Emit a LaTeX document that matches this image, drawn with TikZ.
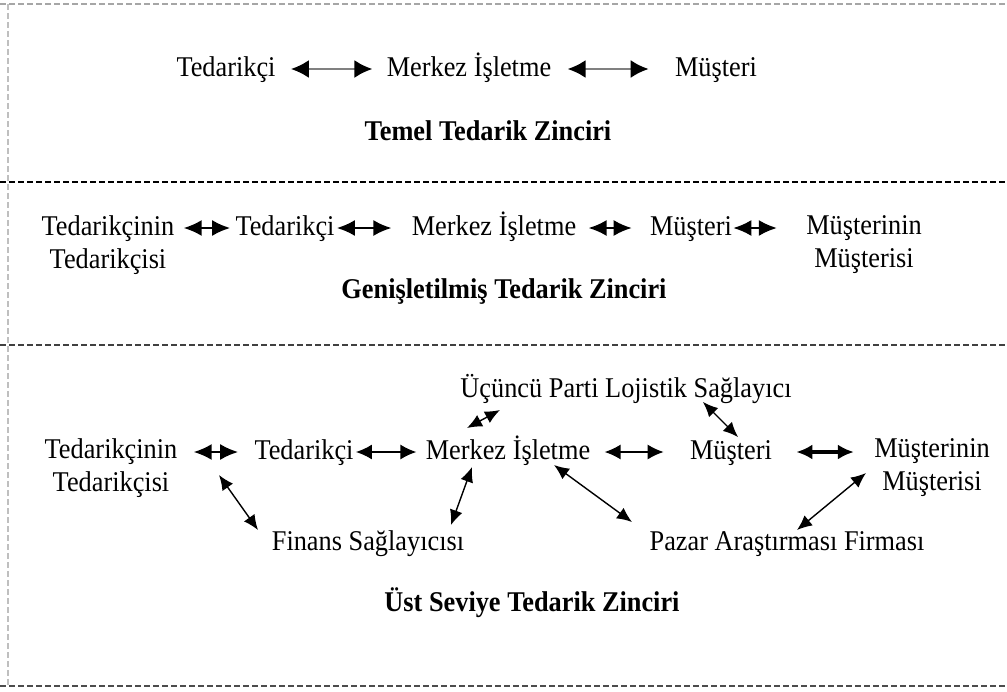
\documentclass[tikz,border=0pt]{standalone}
\usepackage{fontspec}
\setmainfont[FakeStretch=0.92]{Liberation Serif}
\usetikzlibrary{arrows.meta}
\tikzset{
  lbl/.style={inner sep=0pt,text height=10.5pt,text depth=3pt,font=\fontsize{14.3}{16.5}\selectfont},
  twoline/.style={inner sep=0pt,align=center,font=\fontsize{14.3}{16.5}\selectfont},
  ttl/.style={inner sep=0pt,font=\fontsize{14.3}{16.5}\selectfont\bfseries},
  widelink/.style={{Latex[length=9pt,width=9pt,color=black]}-{Latex[length=9pt,width=9pt,color=black]},draw=gray,line width=1.2pt},
  duallink/.style={{Latex[length=9pt,width=8pt]}-{Latex[length=9pt,width=8pt]},line width=1pt},
  link/.style={{Latex[length=8pt,width=7.5pt]}-{Latex[length=8pt,width=7.5pt]},line width=0.8pt},
  sidelink/.style={{Latex[length=7.5pt,width=6.5pt]}-{Latex[length=7.5pt,width=6.5pt]},line width=0.7pt},
  sep/.style={dash pattern=on 3pt off 1.5pt,line width=1pt}
}
\begin{document}
\begin{tikzpicture}[x=0.5pt,y=-0.5pt]
    \useasboundingbox (0,0) rectangle (1007,691);
    % frame
    \draw[sep,gray!70] (0,4) -- (1007,4);
    \draw[sep,black,line width=1.2pt] (0,182) -- (1007,182);
    \draw[sep,black!75] (0,345) -- (1007,345);
    \draw[sep,black!70] (0,686) -- (1007,686);
    \draw[sep,gray!50,line width=0.8pt] (8,4) -- (8,686);

    % temel
    \node[lbl] (t1) at (226,69) {Tedarikçi};
    \node[lbl] (m1) at (469,69) {Merkez İşletme};
    \node[lbl] (c1) at (716,69) {Müşteri};
    \node[ttl] (k1) at (488,131) {Temel Tedarik Zinciri};
    \draw[widelink,shorten <=7.5pt,shorten >=7pt] (t1.east) -- (m1.west);
    \draw[widelink,shorten <=8pt,shorten >=13pt] (m1.east) -- (c1.west);

    % genisletilmis
    \node[twoline] (ss2) at (108,245) {Tedarikçinin\\Tedarikçisi};
    \node[lbl] (t2) at (285,228) {Tedarikçi};
    \node[lbl] (m2) at (494,228) {Merkez İşletme};
    \node[lbl] (c2) at (691,228) {Müşteri};
    \node[twoline] (cc2) at (864,245) {Müşterinin\\Müşterisi};
    \node[ttl] (k2) at (504,292) {Genişletilmiş Tedarik Zinciri};
    \draw[duallink,shorten <=4.5pt,shorten >=2.5pt] (t2 -| ss2.east) -- (t2.west);
    \draw[duallink,shorten <=1pt,shorten >=10pt] (t2.east) -- (m2.west);
    \draw[duallink,shorten <=6pt,shorten >=9pt] (m2.east) -- (c2.west);
    \draw[duallink,shorten <=0.5pt,shorten >=14.5pt] (c2.east) -- (c2 -| cc2.west);

    % ust seviye
    \node[lbl] (lp) at (626,390) {Üçüncü Parti Lojistik Sağlayıcı};
    \node[twoline] (ss3) at (111,468) {Tedarikçinin\\Tedarikçisi};
    \node[lbl] (t3) at (304,452) {Tedarikçi};
    \node[lbl] (m3) at (508,452) {Merkez İşletme};
    \node[lbl] (c3) at (731,452) {Müşteri};
    \node[twoline] (cc3) at (932,468) {Müşterinin\\Müşterisi};
    \node[lbl] (fin) at (368,543) {Finans Sağlayıcısı};
    \node[lbl] (paz) at (787,543) {Pazar Araştırması Firması};
    \node[ttl] (k3) at (532,603) {Üst Seviye Tedarik Zinciri};
    \draw[duallink,shorten <=8pt,shorten >=8pt] (t3 -| ss3.east) -- (t3.west);
    \draw[link,shorten <=1pt,shorten >=4.5pt] (t3.east) -- (m3.west);
    \draw[link,shorten <=7pt,shorten >=13pt] (m3.east) -- (c3.west);
    \draw[link,line width=1.6pt,shorten <=12pt,shorten >=10pt] (c3.east) -- (c3 -| cc3.west);
    \draw[sidelink] ([shift={(-126,20)}]lp.center) -- ([shift={(-41,-24)}]m3.center);
    \draw[sidelink] ([shift={(77,12)}]lp.center) -- ([shift={(7,-15)}]c3.center);
    \draw[sidelink] ([shift={(108,7)}]ss3.center) -- ([shift={(-110,-13)}]fin.center);
    \draw[sidelink] ([shift={(-36,15)}]m3.center) -- ([shift={(83,-18)}]fin.center);
    \draw[sidelink] ([shift={(46,13)}]m3.center) -- ([shift={(-155,-21)}]paz.center);
    \draw[sidelink] ([shift={(-66,5)}]cc3.center) -- ([shift={(10,-13)}]paz.center);
\end{tikzpicture}
\end{document}
